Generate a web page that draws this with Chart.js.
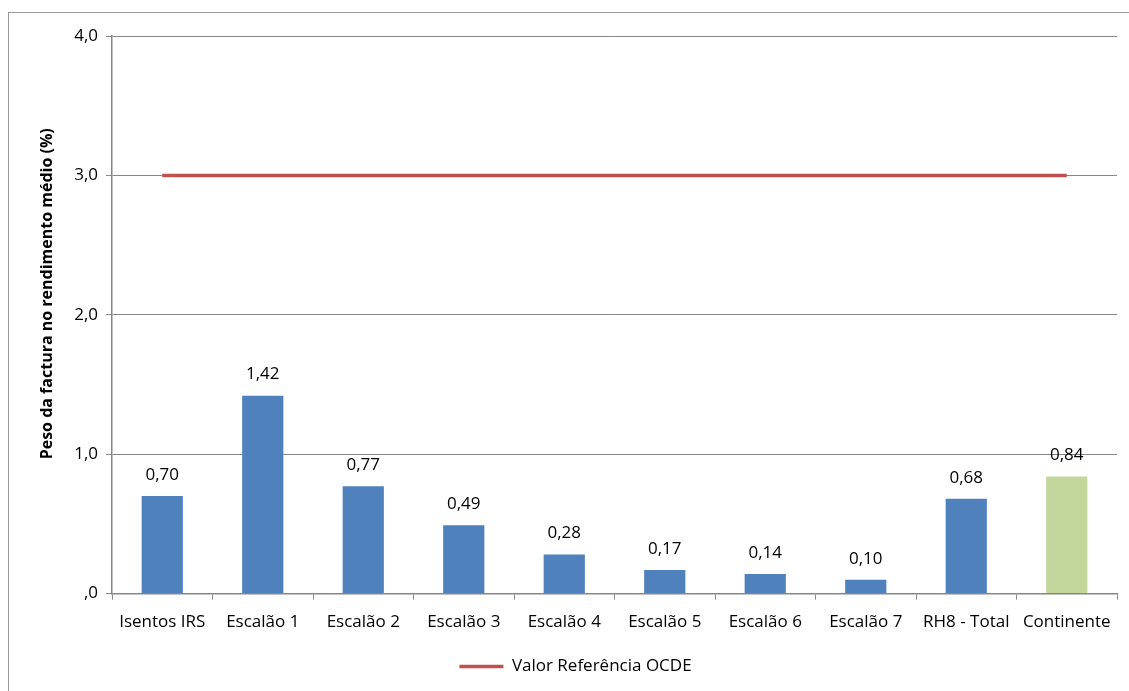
<!DOCTYPE html>
<html>
<head>
<meta charset="utf-8">
<script src="https://cdn.jsdelivr.net/npm/chart.js@4.4.1/dist/chart.umd.min.js"></script>
<style>
  html, body { margin: 0; padding: 0; background: #fff; overflow: hidden; }
  #frame { position: absolute; left: 8px; top: 12px; width: 1200px; height: 800px; border: 1px solid #9a9a9a; }
  #wrap { position: absolute; left: 0; top: 0; width: 1129px; height: 691px; }
</style>
</head>
<body>
<div id="frame"></div>
<div id="wrap"><canvas id="chart"></canvas></div>
<script>
  const categories = ['Isentos IRS','Escalão 1','Escalão 2','Escalão 3','Escalão 4','Escalão 5','Escalão 6','Escalão 7','RH8 - Total','Continente'];
  const pesoValues = [0.70, 1.42, 0.77, 0.49, 0.28, 0.17, 0.14, 0.10, 0.68, 0.84];
  const ocdeValues = [3, 3, 3, 3, 3, 3, 3, 3, 3, 3];
  const yTicks = [0, 1, 2, 3, 4];
  const yTitle = 'Peso da factura no rendimento médio (%)';

  const barColors = pesoValues.map((v, i) => i === pesoValues.length - 1 ? '#C3D69B' : '#4F81BD');
  const fmt = v => v === 0 ? ',0' : v.toFixed(1).replace('.', ',');
  const FONT = '"Open Sans", "Liberation Sans", sans-serif';

  const valueLabels = {
    id: 'valueLabels',
    afterDatasetsDraw(chart) {
      const ctx = chart.ctx;
      const meta = chart.getDatasetMeta(1);
      ctx.save();
      ctx.font = '17px ' + FONT;
      ctx.fillStyle = '#000';
      ctx.textAlign = 'center';
      ctx.textBaseline = 'middle';
      meta.data.forEach((bar, i) => {
        ctx.fillText(pesoValues[i].toFixed(2).replace('.', ','), bar.x, bar.y - 21);
      });
      ctx.restore();
    }
  };

  // axis title sits a bit above the centre of the axis in the original
  const axisTitle = {
    id: 'axisTitle',
    afterDraw(chart) {
      const ctx = chart.ctx;
      const y = chart.scales.y;
      ctx.save();
      ctx.translate(47, y.getPixelForValue(2) - 21);
      ctx.rotate(-Math.PI / 2);
      ctx.font = 'bold 16px ' + FONT;
      ctx.fillStyle = '#000';
      ctx.textAlign = 'center';
      ctx.textBaseline = 'middle';
      ctx.fillText(yTitle, 0, 0);
      ctx.restore();
    }
  };

  new Chart(document.getElementById('chart'), {
    type: 'bar',
    data: {
      labels: categories,
      datasets: [
        {
          type: 'line',
          label: 'Valor Referência OCDE',
          data: ocdeValues,
          borderColor: '#C0504D',
          backgroundColor: '#C0504D',
          borderWidth: 3.5,
          pointRadius: 0,
          order: 0
        },
        {
          label: 'Peso',
          data: pesoValues,
          backgroundColor: barColors,
          barPercentage: 0.41,
          categoryPercentage: 1,
          order: 1
        }
      ]
    },
    options: {
      responsive: true,
      maintainAspectRatio: false,
      animation: false,
      layout: { padding: { top: 36, right: 12, left: 34, bottom: 6 } },
      plugins: {
        tooltip: { enabled: false },
        legend: {
          position: 'bottom',
          labels: {
            filter: item => item.datasetIndex === 0,
            usePointStyle: true,
            pointStyle: 'line',
            pointStyleWidth: 44,
            padding: 14,
            color: '#000',
            font: { size: 17, family: FONT }
          }
        }
      },
      scales: {
        x: {
          offset: true,
          grid: { display: true, drawOnChartArea: false, drawTicks: true, tickLength: 6, color: '#868686', offset: true },
          border: { color: '#868686', width: 1.5 },
          ticks: { color: '#000', padding: 12, font: { size: 17, family: FONT }, maxRotation: 0, autoSkip: false }
        },
        y: {
          min: 0,
          max: 4,
          afterBuildTicks: s => { s.ticks = yTicks.map(v => ({ value: v })); },
          afterFit: s => { s.width = 78; },
          grid: { color: '#868686', tickLength: 6, lineWidth: 1 },
          border: { color: '#868686', width: 1.5 },
          ticks: { color: '#000', padding: 8, callback: v => fmt(v), font: { size: 17, family: FONT } },
          title: { display: false }
        }
      }
    },
    plugins: [valueLabels, axisTitle]
  });
</script>
</body>
</html>
